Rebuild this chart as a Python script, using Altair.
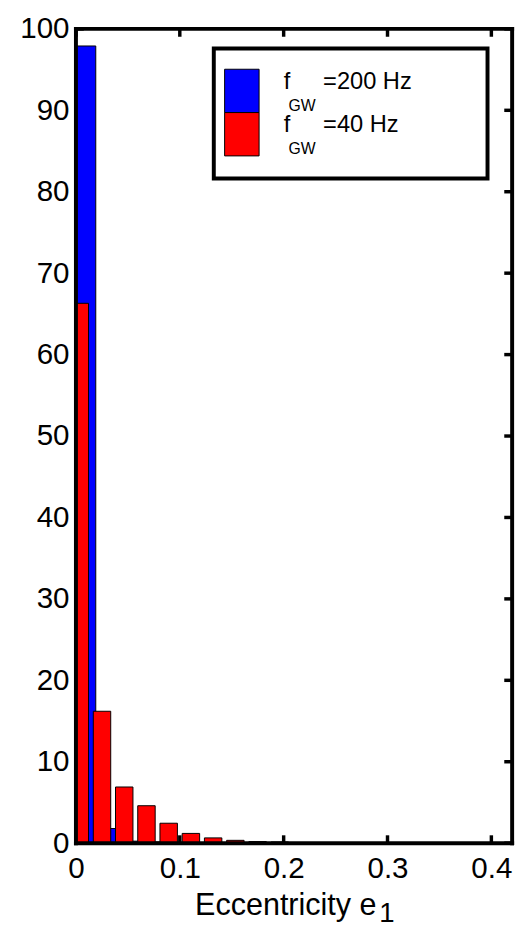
import altair as alt
import pandas as pd

# ---- data ----
red_centers = [0.0037, 0.0251, 0.0465, 0.0679, 0.0893, 0.1107, 0.1321, 0.1535, 0.1749, 0.1963, 0.2177]
red_values = [66.3, 16.2, 6.9, 4.6, 2.45, 1.2, 0.65, 0.35, 0.2, 0.15, 0.05]
blue_centers = [0.0097, 0.0311, 0.0525, 0.0739]
blue_values = [97.9, 1.8, 0.25, 0.15]
x_ticks = [0, 0.1, 0.2, 0.3, 0.4]
y_ticks = [0, 10, 20, 30, 40, 50, 60, 70, 80, 90, 100]
series_names = ["=200 Hz", "=40 Hz"]
series_colors = ["#0000ff", "#ff0000"]

W, H = 443, 827
FONT = "Liberation Sans"
RED_W = 0.0168
BLUE_W = 0.0188

blue_df = pd.DataFrame({"c": blue_centers, "v": blue_values})
blue_df["x0"] = blue_df["c"] - BLUE_W / 2
blue_df["x1"] = blue_df["c"] + BLUE_W / 2
red_df = pd.DataFrame({"c": red_centers, "v": red_values})
red_df["x0"] = red_df["c"] - RED_W / 2
red_df["x1"] = red_df["c"] + RED_W / 2

xs = alt.Scale(domain=[0, 0.42], nice=False, zero=False)
ys = alt.Scale(domain=[0, 100], nice=False)

xaxis = alt.Axis(values=x_ticks, format="~g", domain=False, ticks=False, grid=False,
                 labelFont=FONT, labelFontSize=30, labelColor="black", labelPadding=11,
                 labelFlush=False, labelOverlap=False, title=None)
yaxis = alt.Axis(values=y_ticks, domain=False, ticks=False, grid=False,
                 labelFont=FONT, labelFontSize=30, labelColor="black", labelPadding=7,
                 labelOverlap=False, title=None)

xt = pd.DataFrame({"x": x_ticks})
yt = pd.DataFrame({"y": y_ticks})
TL = 8
tick_bottom = alt.Chart(xt).mark_rule(color="black", strokeWidth=3.5).encode(
    x=alt.X("x:Q", scale=xs, axis=xaxis), y=alt.value(H), y2=alt.value(H - TL))
tick_top = alt.Chart(xt).mark_rule(color="black", strokeWidth=3.5).encode(
    x=alt.X("x:Q", scale=xs), y=alt.value(0), y2=alt.value(TL))
tick_left = alt.Chart(yt).mark_rule(color="black", strokeWidth=3.5).encode(
    y=alt.Y("y:Q", scale=ys, axis=yaxis), x=alt.value(0), x2=alt.value(TL))
tick_right = alt.Chart(yt).mark_rule(color="black", strokeWidth=3.5).encode(
    y=alt.Y("y:Q", scale=ys), x=alt.value(W), x2=alt.value(W - TL))

blue = alt.Chart(blue_df).mark_rect(color="#0000ff", stroke="black", strokeWidth=1, clip=True).encode(
    x=alt.X("x0:Q", scale=xs), x2="x1:Q",
    y=alt.Y("v:Q", scale=ys), y2=alt.datum(0))
red = alt.Chart(red_df).mark_rect(color="#ff0000", stroke="black", strokeWidth=1, clip=True).encode(
    x=alt.X("x0:Q", scale=xs), x2="x1:Q",
    y=alt.Y("v:Q", scale=ys), y2=alt.datum(0))

frame_df = pd.DataFrame({"k": [0]})
fw = 4
frame = [
    alt.Chart(frame_df).mark_rule(color="black", strokeWidth=fw, strokeCap="square").encode(
        x=alt.value(0), x2=alt.value(W), y=alt.value(0)),
    alt.Chart(frame_df).mark_rule(color="black", strokeWidth=fw, strokeCap="square").encode(
        x=alt.value(0), x2=alt.value(W), y=alt.value(H)),
    alt.Chart(frame_df).mark_rule(color="black", strokeWidth=fw, strokeCap="square").encode(
        x=alt.value(0), y=alt.value(0), y2=alt.value(H)),
    alt.Chart(frame_df).mark_rule(color="black", strokeWidth=fw, strokeCap="square").encode(
        x=alt.value(W), y=alt.value(0), y2=alt.value(H)),
]

# legend
leg_box = alt.Chart(frame_df).mark_rect(fill="white", stroke="black", strokeWidth=4).encode(
    x=alt.value(140), x2=alt.value(418), y=alt.value(20), y2=alt.value(152))
leg_df = pd.DataFrame({"name": series_names, "color": series_colors, "row": [0, 1]})
sw = []
txt = []
for i, (nm, col) in enumerate(zip(series_names, series_colors)):
    d = leg_df.iloc[[i]]
    sw.append(alt.Chart(d).mark_rect(stroke="black", strokeWidth=1).encode(
        x=alt.value(151), x2=alt.value(186),
        y=alt.value(41 + 44 * i), y2=alt.value(85 + 44 * i),
        color=alt.Color("color:N", scale=None)))
    base_y = 61 + 44 * i
    txt.append(alt.Chart(d).mark_text(font=FONT, fontSize=24, align="left", baseline="alphabetic", color="black").encode(
        x=alt.value(211), y=alt.value(base_y), text=alt.value("f")))
    txt.append(alt.Chart(d).mark_text(font=FONT, fontSize=16, align="left", baseline="alphabetic", color="black").encode(
        x=alt.value(216), y=alt.value(base_y + 22), text=alt.value("GW")))
    txt.append(alt.Chart(d).mark_text(font=FONT, fontSize=24, align="left", baseline="alphabetic", color="black").encode(
        x=alt.value(251), y=alt.value(base_y), text="name:N"))

# x title
title_main = alt.Chart(frame_df).mark_text(font=FONT, fontSize=31, align="left", baseline="alphabetic", color="black").encode(
    x=alt.value(121), y=alt.value(900), text=alt.value("Eccentricity e"))
title_sub = alt.Chart(frame_df).mark_text(font=FONT, fontSize=28, align="left", baseline="alphabetic", color="black").encode(
    x=alt.value(308), y=alt.value(907), text=alt.value("1"))

chart = alt.layer(
    tick_bottom, tick_top, tick_left, tick_right,
    blue, red, *frame, leg_box, *sw, *txt, title_main, title_sub
).properties(
    width=W, height=H,
    autosize=alt.AutoSizeParams(type="none"),
    padding={"left": 69, "top": 14, "right": 9, "bottom": 83},
).configure_view(stroke=None).configure(background="white")

chart.save("out.html", embed_options={"renderer": "svg", "actions": False})
